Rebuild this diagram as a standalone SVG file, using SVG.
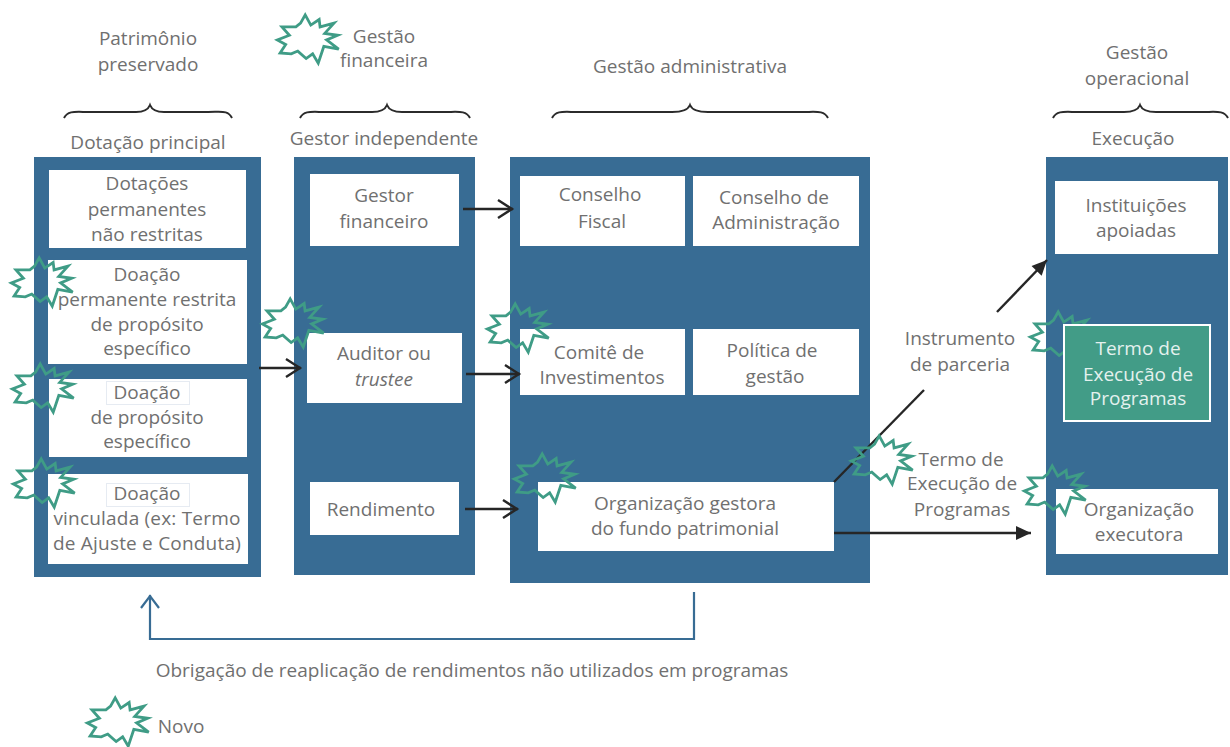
<svg xmlns="http://www.w3.org/2000/svg" xmlns:xlink="http://www.w3.org/1999/xlink" width="1230" height="747" viewBox="0 0 1230 747">
<style>
text{font-family:"Open Sans","Noto Sans","Liberation Sans",sans-serif;font-size:19px;fill:#707070;text-anchor:middle}
.panel{fill:#386c94}
.box{fill:#fff}
.star{fill:none;stroke:#3f9c86;stroke-width:3}
.brace{fill:none;stroke:#2b2b2b;stroke-width:2}
.line{fill:none;stroke:#262626;stroke-width:2.4}
.back{fill:none;stroke:#386c94;stroke-width:2.2}
.faint{fill:#fff;stroke:#e6ebf2;stroke-width:1}
</style>
<defs>
<path id="s" class="star" transform="scale(.93)" d="M-3-26 3-15 12-21 13-13 28-17 18-6 32-4 20 1 33 11 17 8 11 26 5 16-2 21-11 13-18 16-30 15-24 6-33 1-20-4-28-13-13-13-8-17Z"/>
<marker id="open" markerUnits="userSpaceOnUse" markerWidth="24" markerHeight="24" refX="18" refY="12" orient="auto"><path d="M3 3 17 12 3 21" fill="none" stroke="#262626" stroke-width="2.4"/></marker>
<marker id="openb" markerUnits="userSpaceOnUse" markerWidth="24" markerHeight="24" refX="18" refY="12" orient="auto"><path d="M5 3 17 12 5 21" fill="none" stroke="#386c94" stroke-width="2.2"/></marker>
<marker id="solid" markerUnits="userSpaceOnUse" markerWidth="20" markerHeight="20" refX="16" refY="10" orient="auto"><path d="M1 3 16 10 1 17Z" fill="#262626"/></marker>
</defs>

<g id="panels">
<rect class="panel" x="34" y="157" width="227" height="420"/>
<rect class="panel" x="294" y="157" width="181" height="418"/>
<rect class="panel" x="510" y="157" width="360" height="426"/>
<rect class="panel" x="1046" y="157" width="182" height="418"/>
</g>

<g id="headers">
<text x="148" y="45">Patrimônio</text><text x="148" y="71">preservado</text>
<text x="384" y="43">Gestão</text><text x="384" y="67">financeira</text>
<text x="690" y="73">Gestão administrativa</text>
<text x="1137" y="59">Gestão</text><text x="1137" y="85">operacional</text>
<text x="148" y="149">Dotação principal</text>
<text x="384" y="145">Gestor independente</text>
<text x="1133" y="145">Execução</text>
<path class="brace" d="M64 118C68 110 76 112 90 112H136C144 112 148 110 150 105C152 110 156 112 164 112H208C222 112 228 110 232 118"/>
<path class="brace" d="M300 118C304 110 312 112 326 112H372C380 112 385 110 387 105C389 110 394 112 402 112H444C458 112 466 110 470 118"/>
<path class="brace" d="M552 118C556 110 564 112 578 112H672C682 112 688 110 690 105C692 110 698 112 708 112H802C816 112 824 110 828 118"/>
<path class="brace" d="M1053 118C1057 110 1065 112 1079 112H1124C1132 112 1138 110 1140 105C1142 110 1148 112 1156 112H1202C1216 112 1224 110 1228 118"/>
</g>

<g id="n-dotacoes"><rect class="box" x="49" y="170" width="197" height="78"/><text x="147" y="190">Dotações</text><text x="147" y="216">permanentes</text><text x="147" y="241">não restritas</text></g>
<g id="n-doacao-permanente"><rect class="box" x="48" y="260" width="199" height="104"/><text x="147" y="281">Doação</text><text x="147" y="306">permanente restrita</text><text x="147" y="331">de propósito</text><text x="147" y="355">específico</text></g>
<g id="n-doacao-proposito"><rect class="box" x="49" y="379" width="198" height="78"/><rect class="faint" x="106.500" y="381.500" width="83" height="23"/><text x="147" y="399">Doação</text><text x="147" y="424">de propósito</text><text x="147" y="448">específico</text></g>
<g id="n-doacao-vinculada"><rect class="box" x="48" y="474" width="200" height="90"/><rect class="faint" x="106.500" y="483.500" width="83" height="23"/><text x="147" y="500">Doação</text><text x="147" y="525" style="letter-spacing:.2px">vinculada (ex: Termo</text><text x="147" y="550" style="letter-spacing:.2px">de Ajuste e Conduta)</text></g>

<g id="n-gestor"><rect class="box" x="310" y="174" width="149" height="72"/><text x="384" y="202">Gestor</text><text x="384" y="228">financeiro</text></g>
<g id="n-auditor"><rect class="box" x="307" y="333" width="155" height="70"/><text x="384" y="360">Auditor ou</text><text x="384" y="386" font-style="italic">trustee</text></g>
<g id="n-rendimento"><rect class="box" x="310" y="482" width="149" height="53"/><text x="381" y="516">Rendimento</text></g>

<g id="n-conselho-fiscal"><rect class="box" x="520" y="176" width="165" height="70"/><text x="600" y="201">Conselho</text><text x="602" y="228">Fiscal</text></g>
<g id="n-conselho-admin"><rect class="box" x="693" y="176" width="166" height="70"/><text x="774" y="204">Conselho de</text><text x="776" y="229">Administração</text></g>
<g id="n-comite"><rect class="box" x="520" y="329" width="165" height="66"/><text x="599" y="359">Comitê de</text><text x="602" y="384">Investimentos</text></g>
<g id="n-politica"><rect class="box" x="693" y="329" width="166" height="66"/><text x="772" y="357">Política de</text><text x="775" y="383">gestão</text></g>
<g id="n-organizacao-gestora"><rect class="box" x="538" y="482" width="296" height="69"/><text x="685" y="510">Organização gestora</text><text x="685" y="535">do fundo patrimonial</text></g>

<g id="n-instituicoes"><rect class="box" x="1055" y="181" width="163" height="73"/><text x="1136" y="212">Instituições</text><text x="1136" y="237">apoiadas</text></g>
<g id="n-organizacao-executora"><rect class="box" x="1056" y="489" width="162" height="65"/><text x="1139" y="516">Organização</text><text x="1139" y="541">executora</text></g>

<g id="connectors">
<path class="line" marker-end="url(#open)" d="M259 368H301"/>
<path class="line" marker-end="url(#open)" d="M463 209H513"/>
<path class="line" marker-end="url(#open)" d="M466 374H520"/>
<path class="line" marker-end="url(#open)" d="M465 509H518"/>
<path class="line" d="M834 482 924 390"/>
<path class="line" marker-end="url(#solid)" d="M997 312 1047 260"/>
<path class="line" marker-end="url(#solid)" d="M834 533H1031"/>
<path class="back" marker-end="url(#openb)" d="M694 592V639H150V595"/>
</g>

<g id="labels">
<text x="960" y="345">Instrumento</text><text x="960" y="371">de parceria</text>
<text x="961" y="466">Termo de</text><text x="962" y="490">Execução de</text><text x="962" y="516">Programas</text>
<text x="472" y="677">Obrigação de reaplicação de rendimentos não utilizados em programas</text>
<text x="181" y="733">Novo</text>
</g>

<g id="stars">
<use xlink:href="#s" href="#s" x="42" y="282"/>
<use xlink:href="#s" href="#s" x="43" y="388"/>
<use xlink:href="#s" href="#s" x="44" y="483"/>
<use xlink:href="#s" href="#s" x="293" y="323"/>
<use xlink:href="#s" href="#s" x="308" y="39"/>
<use xlink:href="#s" href="#s" x="518" y="328"/>
<use xlink:href="#s" href="#s" x="545" y="478"/>
<use xlink:href="#s" href="#s" x="882" y="460"/>
<use xlink:href="#s" href="#s" x="1061" y="336"/>
<use xlink:href="#s" href="#s" x="1055" y="490"/>
<use xlink:href="#s" href="#s" x="118" y="722"/>
</g>

<g id="n-termo"><rect x="1064" y="325" width="146" height="96" fill="#429c87" stroke="#fff" stroke-width="2"/><text x="1138" y="355" style="fill:#e4f1ee">Termo de</text><text x="1138" y="381" style="fill:#e4f1ee">Execução de</text><text x="1138" y="405" style="fill:#e4f1ee">Programas</text></g>
</svg>
